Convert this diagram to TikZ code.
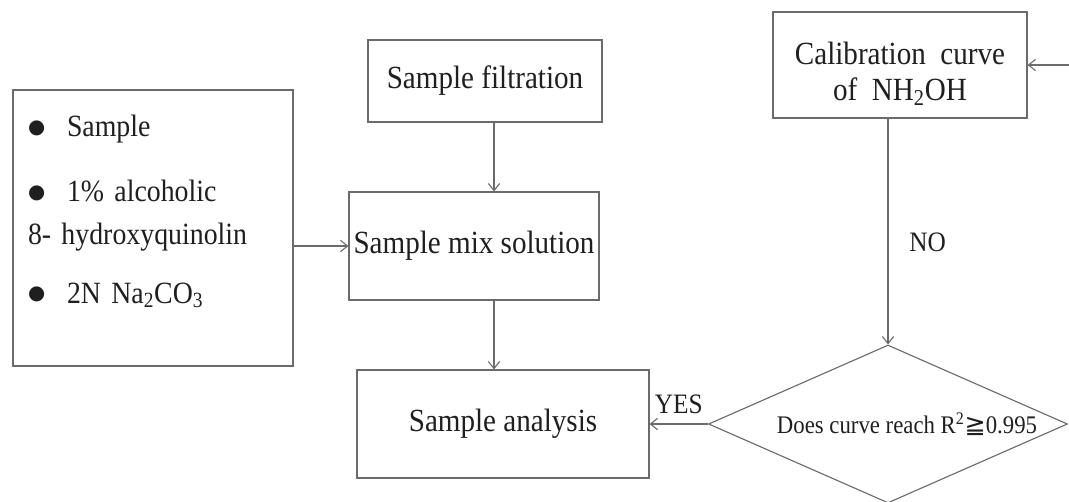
\documentclass[tikz,border=0pt]{standalone}
\usepackage{fontspec}
\setmainfont{Liberation Serif}[FakeStretch=0.9]
\newfontfamily\geqfont{DejaVu Sans}
\usepackage{tikz}
\usetikzlibrary{shapes.geometric, arrows.meta, positioning, calc}
\definecolor{lineGray}{HTML}{6B6B6B}
\definecolor{inkGray}{HTML}{1F1F1F}
\newcommand{\dotitem}{\makebox[0.975cm][l]{\raisebox{0.08cm}{\geqfont\fontsize{14}{14}\selectfont ●}}}
\tikzset{
    box_step/.style={
        rectangle, draw=lineGray, line width=0.8pt, fill=white,
        align=center, text=inkGray, font=\fontsize{23}{26}\selectfont, inner sep=2pt
    },
    box_list/.style={
        rectangle, draw=lineGray, line width=0.8pt, fill=white,
        align=left, text=inkGray, font=\fontsize{22}{30.5}\selectfont,
        inner xsep=0.375cm, inner ysep=0pt, text width=6.25cm
    },
    box_check/.style={
        diamond, draw=lineGray, line width=0.8pt, fill=white, aspect=2.27,
        inner sep=0pt, text=inkGray, font=\fontsize{18}{21}\selectfont
    },
    flow_arrow/.style={
        -{Straight Barb[length=5pt, width=8pt]}, draw=lineGray, line width=0.8pt
    },
    lbl/.style={
        text=inkGray, font=\fontsize{20}{22}\selectfont, inner sep=2pt
    }
}

\begin{document}
\begin{tikzpicture}[font=\fontsize{23}{26}\selectfont]

    \useasboundingbox (0, 0) rectangle (26.725, -12.525);

    % Centre column of steps
    \node[box_step, minimum width=5.85cm, minimum height=2.05cm] (filt) at (12.125, -2.025) {Sample filtration};
    \node[box_step, minimum width=6.25cm, minimum height=2.7cm] (mix) at (11.85, -6.15) {Sample mix solution};
    \node[box_step, minimum width=7.3cm, minimum height=2.7cm] (ana) at (12.575, -10.6) {Sample analysis};

    % Reagents
    \node[box_list, minimum width=7.0cm, minimum height=6.9cm] (reag) at (3.825, -5.7) {
        \dotitem Sample\\[0.55cm]
        \dotitem 1\% alcoholic\\
        8- hydroxyquinolin\\[0.4cm]
        \dotitem 2N Na\textsubscript{2}CO\textsubscript{3}\rule[-0.95cm]{0pt}{1pt}
    };

    % Calibration branch
    \node[box_step, minimum width=6.35cm, minimum height=2.65cm] (calib) at (22.5, -1.625) {
        \rule{0pt}{1.0cm}Calibration\ \ curve\\
        of\ \ NH\textsubscript{2}OH
    };
    \node[box_check, minimum width=8.975cm, minimum height=3.95cm] (check) at (22.2, -10.6) {
        \hspace*{0.95cm}Does curve reach R\textsuperscript{2}{\geqfont ≧}0.995
    };

    \coordinate (col) at (12.35, 0);
    \coordinate (feed) at (26.725, -1.625);

    % Connectors
    \draw[flow_arrow] (filt.south -| col) -- (mix.north -| col);
    \draw[flow_arrow] (mix.south -| col) -- (ana.north -| col);
    \draw[flow_arrow] (reag.east |- mix.west) -- (mix.west);
    \draw[flow_arrow] (feed) -- (calib.east);
    \draw[flow_arrow] (calib.south -| check.north) -- node[lbl, pos=0.55, right=0.45cm] {NO} (check.north);
    \draw[flow_arrow] (check.west) -- node[lbl, above=5pt] {YES} (ana.east);

\end{tikzpicture}
\end{document}
